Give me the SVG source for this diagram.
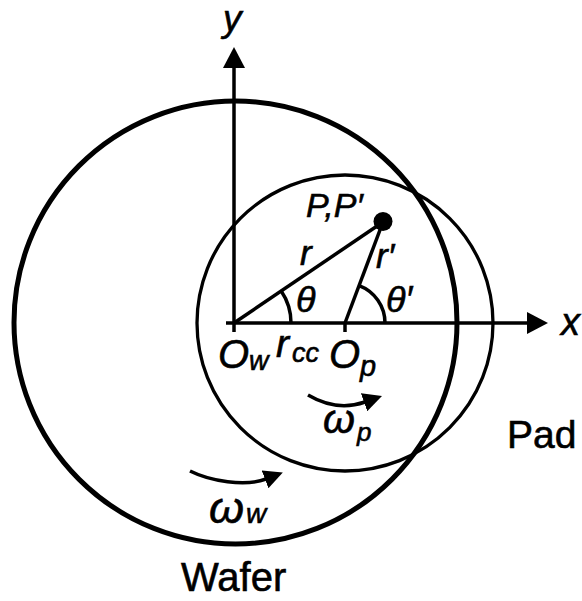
<svg xmlns="http://www.w3.org/2000/svg" width="582" height="601" viewBox="0 0 582 601">
<style>
text{font-family:"Liberation Sans",Arial,sans-serif;fill:#000;stroke:#000;stroke-width:0.6}
.m{font-style:italic}
.ln{fill:none;stroke:#000;stroke-width:3.5}
</style>
<defs>
<marker id="ax" markerUnits="userSpaceOnUse" viewBox="0 0 21 22" refX="0" refY="11" markerWidth="21" markerHeight="22" orient="auto"><path d="M0,0 L21,11 L0,22 z" fill="#000"/></marker>
<marker id="rot" markerUnits="userSpaceOnUse" viewBox="0 0 19 19" refX="1" refY="9.5" markerWidth="19" markerHeight="19" orient="auto"><path d="M0,0 L19,9.5 L0,19 z" fill="#000"/></marker>
</defs>
<rect width="582" height="601" fill="#fff" stroke="none"/>
<g id="wafer">
<circle cx="235.5" cy="322.5" r="221.5" fill="none" stroke="#000" stroke-width="5"/>
<text x="181" y="591" font-size="40">Wafer</text>
</g>
<g id="pad">
<circle cx="345" cy="323" r="148" fill="none" stroke="#000" stroke-width="3.3"/>
<text x="507" y="448" font-size="39">Pad</text>
</g>
<g id="connectors">
<line class="ln" x1="234" y1="332" x2="234" y2="68" marker-end="url(#ax)"/>
<line class="ln" x1="226" y1="323" x2="527" y2="323" marker-end="url(#ax)"/>
<line class="ln" x1="345" y1="323" x2="345" y2="332"/>
<line class="ln" x1="234" y1="323" x2="383" y2="222"/>
<line class="ln" x1="345" y1="323" x2="383" y2="222"/>
<path class="ln" d="M291 323 A57 57 0 0 0 281.2 291.1"/>
<path class="ln" d="M385 323 A40 40 0 0 0 359.1 285.6"/>
<path class="ln" d="M308 395 C325 405 345 409 365 402" marker-end="url(#rot)"/>
<path class="ln" d="M190 471 C210 481 245 487 266 479" marker-end="url(#rot)"/>
</g>
<g id="point">
<circle cx="383" cy="221.5" r="9.5" fill="#000"/>
<text class="m" x="306" y="217" font-size="34">P,P′</text>
</g>
<g id="labels">
<text class="m" x="223" y="31" font-size="37">y</text>
<text class="m" x="561" y="335" font-size="38">x</text>
<text class="m" x="300" y="265" font-size="35">r</text>
<text class="m" x="376" y="268" font-size="35">r′</text>
<text class="m" x="296" y="312" font-size="36">θ</text>
<text class="m" x="386" y="312" font-size="36">θ′</text>
<text class="m" x="218" y="368" font-size="40">O</text>
<text class="m" x="249" y="370" font-size="27">w</text>
<text class="m" x="276" y="357" font-size="39">r</text>
<text class="m" x="292" y="362" font-size="27">cc</text>
<text class="m" x="329" y="368" font-size="40">O</text>
<text class="m" x="360" y="376" font-size="29">p</text>
<text class="m" x="323" y="433" font-size="41">ω</text>
<text class="m" x="357" y="441" font-size="26">p</text>
<text class="m" x="209" y="523" font-size="45">ω</text>
<text class="m" x="246" y="523" font-size="28">w</text>
</g>
</svg>
